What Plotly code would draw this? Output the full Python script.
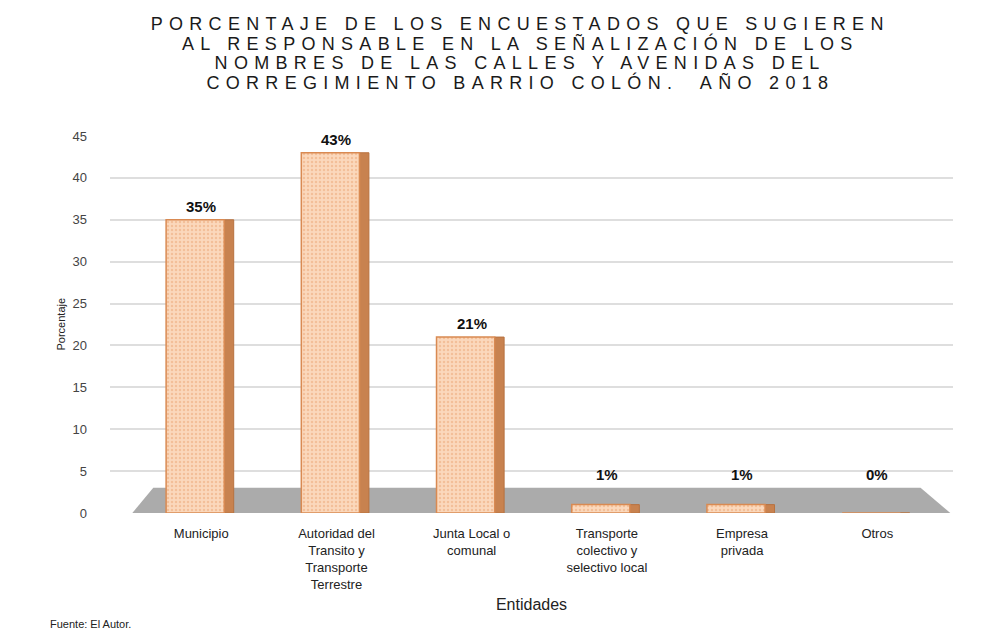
import plotly.graph_objects as go

categories = ["Municipio", "Autoridad del<br>Transito y<br>Transporte<br>Terrestre",
              "Junta Local o<br>comunal", "Transporte<br>colectivo y<br>selectivo local",
              "Empresa<br>privada", "Otros"]
values = [35, 43, 21, 1, 1, 0]
labels = ["35%", "43%", "21%", "1%", "1%", "0%"]
y_ticks = [0, 5, 10, 15, 20, 25, 30, 35, 40, 45]

title_lines = ["PORCENTAJE DE LOS ENCUESTADOS QUE SUGIEREN",
               "AL RESPONSABLE EN LA SEÑALIZACIÓN DE LOS",
               "NOMBRES DE LAS CALLES Y AVENIDAS DEL",
               "CORREGIMIENTO BARRIO COLÓN.  AÑO 2018"]

floor_h = 3.0
xs = list(range(len(categories)))

PLOT_TOP, PLOT_BOTTOM = 136, 513
def py_to_paper(py):
    return (PLOT_BOTTOM - py) / (PLOT_BOTTOM - PLOT_TOP)

fig = go.Figure()
# side (shaded) face
fig.add_trace(go.Bar(
    x=xs, y=values, width=0.07, offset=0.17,
    marker=dict(color="#c8824f", line=dict(color="#b8723f", width=1)),
    hoverinfo="skip", showlegend=False))
# front face
fig.add_trace(go.Bar(
    x=xs, y=values, width=0.43, offset=-0.26,
    marker=dict(color="#f9cba8",
                pattern=dict(shape=".", fgcolor="#e9a676", bgcolor="#fbd8bc", size=4, solidity=0.3),
                line=dict(color="#d98a52", width=1.5)),
    showlegend=False))

for i, (v, t) in enumerate(zip(values, labels)):
    fig.add_annotation(x=i, y=max(v, floor_h), text=f"<b>{t}</b>", showarrow=False,
                       yanchor="bottom", yshift=3, font=dict(size=15, color="#111", family="Arial"))

for line, py in zip(title_lines, [23.5, 43, 62.5, 82]):
    fig.add_annotation(x=0.4864, y=py_to_paper(py), xref="paper", yref="paper", text=line,
                       showarrow=False, xanchor="center", yanchor="middle",
                       font=dict(size=18, family="Arial", color="#1a1a1a"))

fig.add_annotation(x=-0.0735, y=py_to_paper(624), xref="paper", yref="paper", xanchor="left",
                   yanchor="middle", text="Fuente: El Autor.", showarrow=False,
                   font=dict(size=11, color="#222", family="Arial"))
fig.add_annotation(x=-0.675, y=22.5, xref="x", yref="y", text="Porcentaje", textangle=-90,
                   showarrow=False, xshift=-50, font=dict(size=11, color="#222", family="Arial"))

# gray floor
fig.add_shape(type="path", xref="x", yref="y", layer="between",
              path=f"M -0.51 0 L -0.355 {floor_h} L 5.32 {floor_h} L 5.54 0 Z",
              fillcolor="#ababab", line=dict(width=0))

fig.update_layout(
    width=999, height=638, barmode="overlay",
    paper_bgcolor="white", plot_bgcolor="white",
    margin=dict(l=110, r=46, t=PLOT_TOP, b=638 - PLOT_BOTTOM),
    xaxis=dict(tickmode="array", tickvals=xs, ticktext=categories, range=[-0.675, 5.56],
               showgrid=False, zeroline=False, showline=False, ticks="", ticklabelstandoff=11,
               tickfont=dict(size=13, family="Arial", color="#222"),
               title=dict(text="Entidades", font=dict(size=16, family="Arial", color="#222"), standoff=8)),
    yaxis=dict(range=[0, 45], tickvals=y_ticks, showgrid=True, gridcolor="#dedede", gridwidth=2,
               zeroline=False, showline=False, ticks="", ticklabelstandoff=22,
               tickfont=dict(size=13, family="Arial", color="#444")),
)

titles_js = "[" + ",".join('"' + s + '"' for s in title_lines) + "]"
post_js = """
(function(){
  var lines = %s;
  function apply(){
    document.querySelectorAll('text.annotation-text').forEach(function(t){
      if (lines.indexOf(t.textContent.replace(/\\u00a0/g,' ')) >= 0 || lines.indexOf(t.textContent) >= 0) {
        t.style.letterSpacing = '6.3px';
      }
    });
  }
  apply();
  setTimeout(apply, 0);
  var gd = document.getElementById('{plot_id}');
  if (gd && gd.on) gd.on('plotly_afterplot', apply);
})();
""" % titles_js
fig.write_html("out.html", post_script=post_js)
